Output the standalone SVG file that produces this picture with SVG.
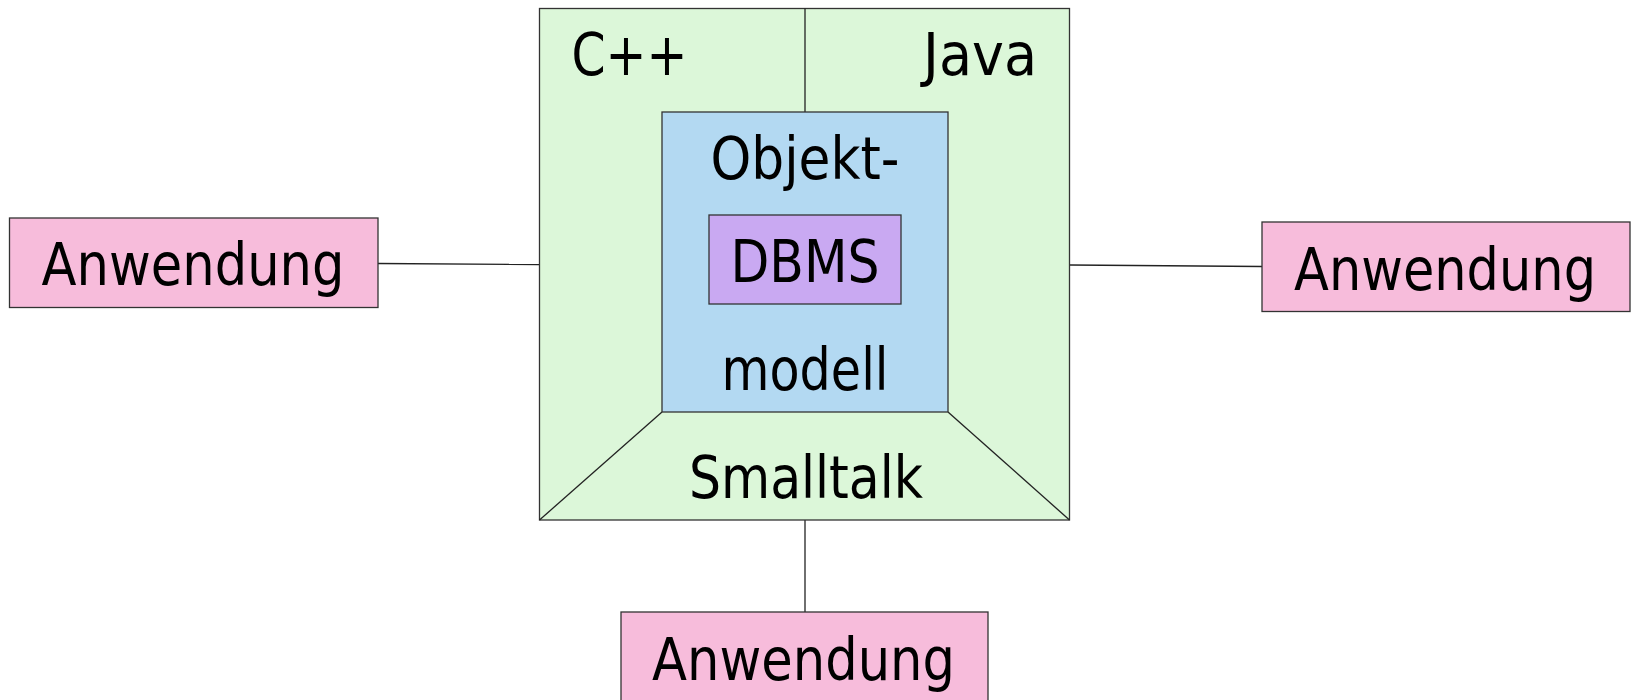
<svg xmlns="http://www.w3.org/2000/svg" width="1638" height="700" viewBox="0 0 1638 700">
<style>
.t{font-family:"DejaVu Sans","Liberation Sans",sans-serif;font-size:58px;fill:#000;text-anchor:middle}
.b{stroke:#333;stroke-width:1.3}
.app{fill:#f7bcdb}
.lang{fill:#dcf7d9}
.om{fill:#b3d9f2}
.db{fill:#c9a9f2}
.c{stroke:#222;stroke-width:1.3;fill:none}
</style>
<rect width="1638" height="700" fill="#fff"/>
<g id="connectors">
<line class="c" x1="378" y1="263.5" x2="539" y2="264.5"/>
<line class="c" x1="1070" y1="265" x2="1262" y2="266.5"/>
<line class="c" x1="805" y1="520" x2="805" y2="612"/>
</g>
<g id="sprachen">
<rect class="lang b" x="539.5" y="8.5" width="530" height="511.5"/>
<line class="c" x1="805" y1="8.5" x2="805" y2="112"/>
<line class="c" x1="662" y1="412" x2="539.5" y2="520"/>
<line class="c" x1="948" y1="412" x2="1069.5" y2="520"/>
<text class="t" x="629.5" y="75" textLength="116" lengthAdjust="spacingAndGlyphs">C++</text>
<text class="t" x="980" y="75" textLength="114" lengthAdjust="spacingAndGlyphs">Java</text>
<text class="t" x="806" y="498" textLength="234" lengthAdjust="spacingAndGlyphs">Smalltalk</text>
</g>
<g id="objektmodell">
<rect class="om b" x="662" y="112" width="286" height="300"/>
<text class="t" x="805" y="179" textLength="189" lengthAdjust="spacingAndGlyphs">Objekt-</text>
<text class="t" x="805" y="390" textLength="167" lengthAdjust="spacingAndGlyphs">modell</text>
</g>
<g id="dbms">
<rect class="db b" x="709" y="215" width="192" height="89"/>
<text class="t" x="805" y="281.5" textLength="149" lengthAdjust="spacingAndGlyphs">DBMS</text>
</g>
<g id="anwendung-links">
<rect class="app b" x="9.5" y="218" width="368.5" height="89.5"/>
<text class="t" x="193" y="285" textLength="303" lengthAdjust="spacingAndGlyphs">Anwendung</text>
</g>
<g id="anwendung-rechts">
<rect class="app b" x="1262" y="222" width="368" height="89.5"/>
<text class="t" x="1445" y="290" textLength="302" lengthAdjust="spacingAndGlyphs">Anwendung</text>
</g>
<g id="anwendung-unten">
<rect class="app b" x="621" y="612" width="367" height="100"/>
<text class="t" x="803.5" y="680" textLength="303" lengthAdjust="spacingAndGlyphs">Anwendung</text>
</g>
</svg>
